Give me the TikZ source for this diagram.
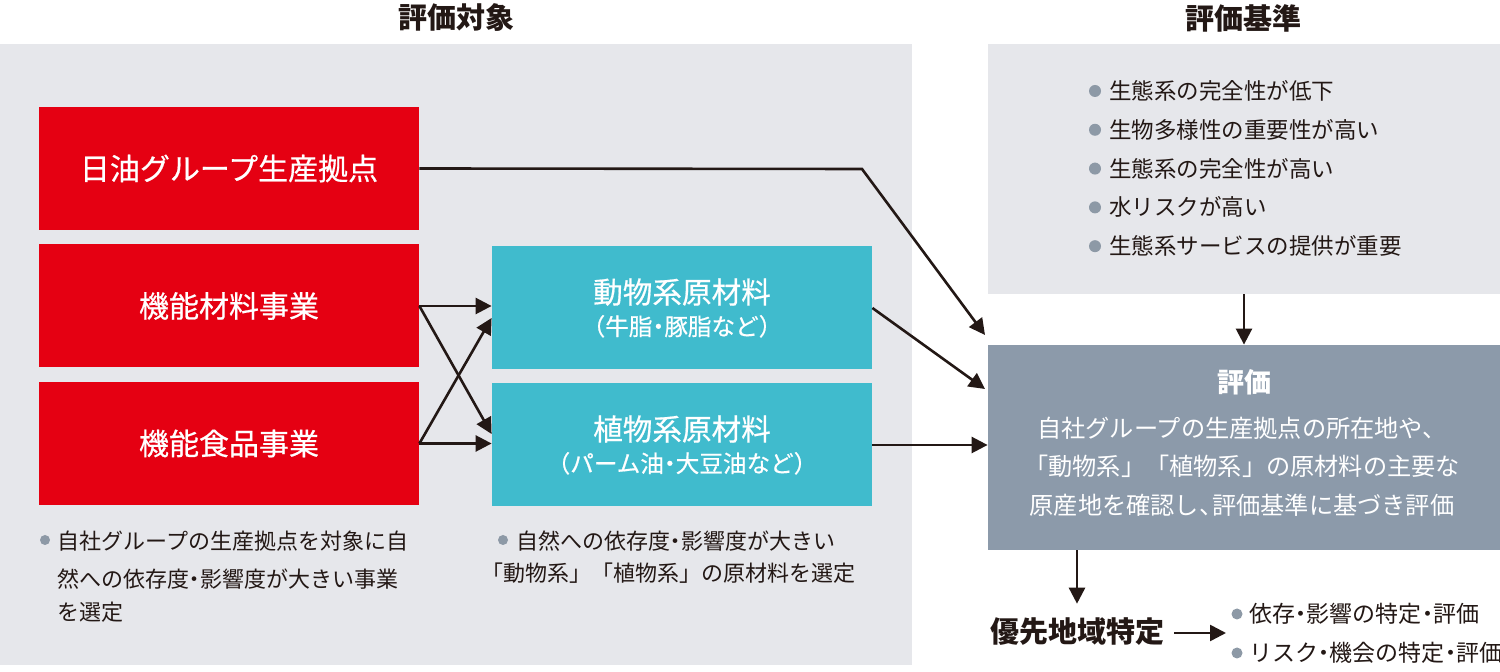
\documentclass[tikz,border=0pt]{standalone}
\usepackage{fontspec}
\setmainfont{Noto Sans CJK JP}
\newfontfamily\medfont[FakeBold=0.6]{Noto Sans CJK JP}
\usetikzlibrary{arrows.meta,calc}
\definecolor{redc}{HTML}{E50012}
\definecolor{cyanc}{HTML}{40BBCD}
\definecolor{panel}{HTML}{E6E7EB}
\definecolor{evalc}{HTML}{8C9AAA}
\definecolor{dotc}{HTML}{8D99A6}
\definecolor{ink}{HTML}{231815}
\newcommand\nakaguro{\makebox[0.5em]{・}}
\newcommand\touten{\makebox[0.55em][l]{、}}
\tikzset{
  redbox/.style={fill=redc,draw=none,minimum width=190pt,minimum height=61.5pt,text=white,font=\medfont\fontsize{15}{17}\selectfont,inner sep=0pt},
  cyanbox/.style={fill=cyanc,draw=none,minimum width=190pt,minimum height=61.5pt,text=white,align=center,inner sep=0pt,font=\medfont},
  arr/.style={draw=ink,line width=1.3pt,-{Triangle[length=8pt,width=8pt]}},
  txt/.style={text=ink,inner sep=0pt,anchor=west},
  head/.style={text=ink,font=\fontsize{14.5}{17}\selectfont\bfseries,inner sep=0pt}
}
\begin{document}
\begin{tikzpicture}[x=0.5pt,y=-0.5pt]
\useasboundingbox (0,0) rectangle (1500,672);
\fill[white] (0,0) rectangle (1500,672);
% panels
\fill[panel] (0,44) rectangle (912,665);
\node[fill=panel,minimum width=256pt,minimum height=125pt,inner sep=0pt] (crit) at (1244,169) {};
\node[fill=evalc,minimum width=256pt,minimum height=102.5pt,inner sep=0pt] (ev) at (1244,447.5) {};
% headers
\node[head] (h1) at (456,18) {評価対象};
\node[head] (h2) at (1243,18) {評価基準};
% red boxes
\node[redbox] (r1) at (229,168.5) {日油グループ生産拠点};
\node[redbox] (r2) at (229,306) {機能材料事業};
\node[redbox] (r3) at (229,443.5) {機能食品事業};
% cyan boxes
\node[cyanbox] (c1) at (682,308) {{\fontsize{14.8}{17}\selectfont 動物系原材料}\\[4pt]{\fontsize{11.8}{13}\selectfont （牛脂\nakaguro 豚脂など）}};
\node[cyanbox] (c2) at (682,445) {{\fontsize{14.8}{17}\selectfont 植物系原材料}\\[4pt]{\fontsize{11.8}{13}\selectfont （パーム油\nakaguro 大豆油など）}};
% criteria list
\foreach \t [count=\i] in {生態系の完全性が低下,生物多様性の重要性が高い,生態系の完全性が高い,水リスクが高い,生態系サービスの提供が重要}{
  \fill[dotc] (1095,{91+(\i-1)*38.8}) circle (6);
  \node[txt,font=\fontsize{11.25}{13}\selectfont] (cl\i) at (1109,{91+(\i-1)*38.8}) {\t};
}
% evaluation text
\node[text=white,font=\fontsize{13.5}{16}\selectfont\bfseries,inner sep=0pt] (evt) at (1244,382) {評価};
\node[text=white,inner sep=0pt,align=center,font=\fontsize{12.1}{19.25}\selectfont] (evb) at (1242,466.5) {自社グループの生産拠点の所在地や、\\「動物系」「植物系」の原材料の主要な\\原産地を確認し\touten 評価基準に基づき評価};
% left notes
\fill[dotc] (45,540) circle (5);
\node[txt,font=\fontsize{11}{13}\selectfont] (n1a) at (57,541) {自社グループの生産拠点を対象に自};
\node[txt,font=\fontsize{11}{13}\selectfont] (n1b) at (57,579) {然への依存度\nakaguro 影響度が大きい事業};
\node[txt,font=\fontsize{11}{13}\selectfont] (n1c) at (57,612) {を選定};
\fill[dotc] (503,540) circle (5);
\node[txt,font=\fontsize{11}{13}\selectfont] (n2a) at (516,541) {自然への依存度\nakaguro 影響度が大きい};
\node[txt,font=\fontsize{11}{13}\selectfont] (n2b) at (481,573) {「動物系」「植物系」の原材料を選定};
% priority
\node[text=ink,font=\fontsize{14.5}{17}\selectfont\bfseries,inner sep=0pt] (pr) at (1077,632) {優先地域特定};
\coordinate (prt) at (1226,633);
\fill[dotc] (1237,614) circle (5.5);
\node[txt,font=\fontsize{11.5}{13}\selectfont] (b1) at (1249,614) {依存\nakaguro 影響の特定\nakaguro 評価};
\fill[dotc] (1237,653) circle (5.5);
\node[txt,font=\fontsize{11.5}{13}\selectfont] (b2) at (1249,653) {リスク\nakaguro 機会の特定\nakaguro 評価};
% connectors
\coordinate (k1) at (862,169);
\coordinate (e1) at (985,335);
\coordinate (e2) at (985,389);
\draw[arr] (r1.east) -- (k1) -- (e1);
\draw[arr] (c1.east) -- (e2);
\draw[arr] (c2.east) -- (c2.east -| ev.west);
\draw[arr] (r2.east) -- (c1.west |- r2.east);
\draw[arr] (r2.east) -- ($(c2.west)+(0,-11)$);
\draw[arr] (r3.east) -- (c2.west |- r3.east);
\draw[arr] (r3.east) -- ($(c1.west)+(0,10)$);
\draw[arr] (crit.south) -- (ev.north);
\draw[arr] (ev.south -| pr.north) -- ($(pr.north)+(0,-14)$);
\draw[arr] ($(pr.east)+(10,1)$) -- (prt);
\end{tikzpicture}
\end{document}
